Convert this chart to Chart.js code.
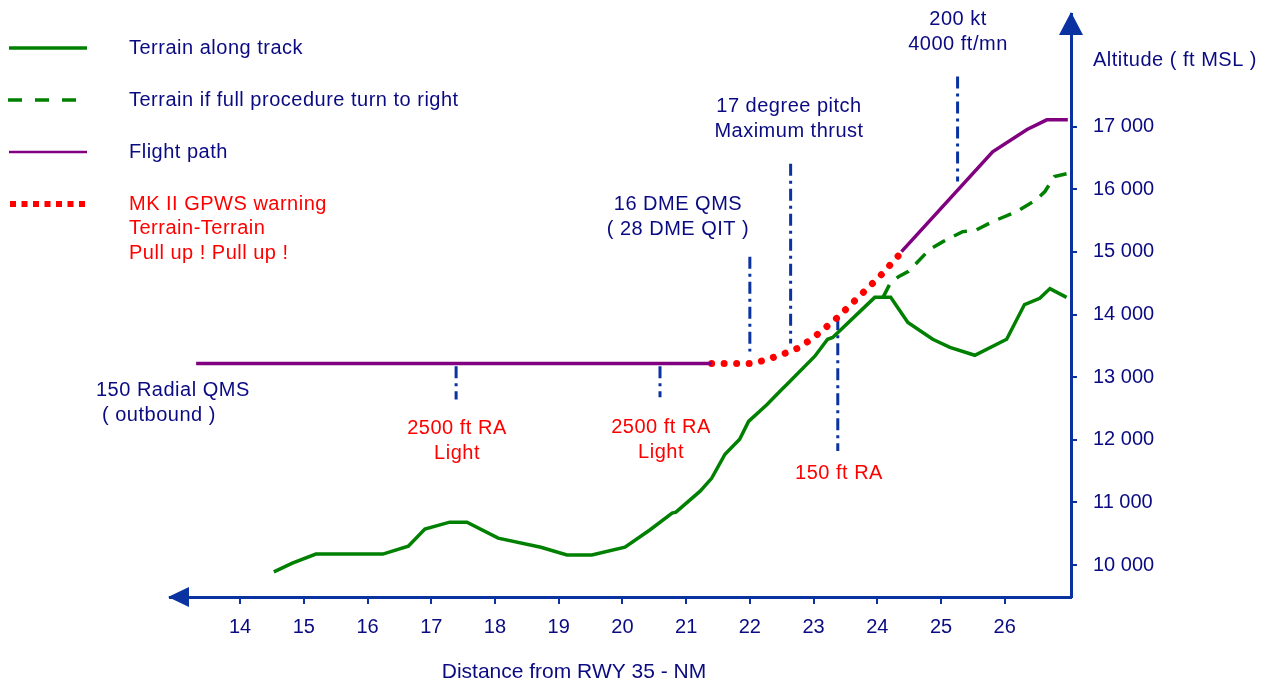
<!DOCTYPE html>
<html>
<head>
<meta charset="utf-8">
<script src="https://cdn.jsdelivr.net/npm/chart.js@4.4.1/dist/chart.umd.min.js"></script>
<style>
  body { margin: 0; background: #fff; }
</style>
</head>
<body>
<canvas id="profile" width="1272" height="686"></canvas>
<script>
// distance from RWY 35 (NM) and altitude (ft MSL)
const xTicks = [14, 15, 16, 17, 18, 19, 20, 21, 22, 23, 24, 25, 26];
const yTicks = [10000, 11000, 12000, 13000, 14000, 15000, 16000, 17000];

const terrainDist = [14.53, 14.82, 15.19, 16.24, 16.64, 16.90, 17.29, 17.56, 18.05, 18.72, 19.13, 19.52,
  20.04, 20.43, 20.78, 20.84, 21.22, 21.40, 21.61, 21.84, 21.98, 22.27, 22.50, 22.58, 23.02, 23.22,
  23.30, 23.96, 24.21, 24.48, 24.87, 25.14, 25.53, 26.03, 26.31, 26.55, 26.71, 26.97];
const terrainAlt = [9890, 10030, 10175, 10175, 10300, 10575, 10685, 10685, 10430, 10285, 10160, 10160,
  10285, 10560, 10830, 10845, 11180, 11385, 11770, 12010, 12295, 12565, 12805, 12885, 13335, 13605,
  13635, 14275, 14275, 13875, 13605, 13475, 13350, 13605, 14160, 14260, 14415, 14275];

const turnDist = [24.09, 24.20, 24.34, 24.49, 24.82, 25.03, 25.34, 25.53, 25.81, 26.19, 26.50, 26.63, 26.78, 26.97];
const turnAlt = [14275, 14495, 14610, 14690, 15040, 15165, 15325, 15340, 15485, 15645, 15835, 15965, 16205, 16250];

const levelDist = [13.31, 21.40];
const levelAlt = [13220, 13220];

const warnDist = [21.40, 22.00, 22.24, 22.42, 22.63, 22.78, 22.94, 23.10, 23.36, 23.65, 24.04, 24.35];
const warnAlt = [13220, 13220, 13270, 13335, 13410, 13475, 13590, 13715, 13940, 14225, 14610, 14960];

const climbDist = [24.38, 25.81, 26.35, 26.66, 26.99];
const climbAlt = [15005, 16600, 16955, 17110, 17110];

// vertical dash-dot event markers: distance, top and bottom altitude
const markDist = [17.39, 20.59, 22.00, 22.64, 23.38, 25.26];
const markTop = [13175, 13175, 14925, 16410, 13940, 17800];
const markBottom = [12645, 12680, 13410, 13540, 11820, 16125];

const NAVY = '#0a0a82';
const AXIS = '#0a32a0';
const RED = '#ff0000';
const GREEN = '#008000';
const PURPLE = '#800080';
const FONT = '"Liberation Sans", Arial, sans-serif';

function pts(xs, ys) {
  return xs.map((x, i) => ({ x: x, y: ys[i] }));
}

const datasets = [
  { data: pts(terrainDist, terrainAlt), borderColor: GREEN, borderWidth: 3.5 },
  { data: pts(turnDist, turnAlt), borderColor: GREEN, borderWidth: 3.5, borderDash: [14, 10] },
  { data: pts(levelDist, levelAlt), borderColor: PURPLE, borderWidth: 3.5 },
  { data: pts(climbDist, climbAlt), borderColor: PURPLE, borderWidth: 3.5 },
  { data: pts(warnDist, warnAlt), borderColor: RED, borderWidth: 7, borderCapStyle: 'round', borderDash: [0.01, 12.5] }
];
markDist.forEach((d, i) => {
  datasets.push({
    data: [{ x: d, y: markTop[i] }, { x: d, y: markBottom[i] }],
    borderColor: AXIS, borderWidth: 3, borderDash: [12, 5, 3, 5]
  });
});
datasets.forEach(ds => {
  ds.pointRadius = 0;
  ds.fill = false;
  ds.tension = 0;
  ds.clip = false;
});

// free text on the drawing (pixel positions)
const notes = [
  { t: '200 kt', x: 958, y: 19, c: NAVY, a: 'center' },
  { t: '4000 ft/mn', x: 958, y: 44, c: NAVY, a: 'center' },
  { t: '17 degree pitch', x: 789, y: 106, c: NAVY, a: 'center' },
  { t: 'Maximum thrust', x: 789, y: 131, c: NAVY, a: 'center' },
  { t: '16 DME QMS', x: 678, y: 204, c: NAVY, a: 'center' },
  { t: '( 28 DME QIT )', x: 678, y: 229, c: NAVY, a: 'center' },
  { t: '150 Radial QMS', x: 96, y: 390, c: NAVY, a: 'left' },
  { t: '( outbound )', x: 102, y: 415, c: NAVY, a: 'left' },
  { t: '2500 ft RA', x: 457, y: 428, c: RED, a: 'center' },
  { t: 'Light', x: 457, y: 453, c: RED, a: 'center' },
  { t: '2500 ft RA', x: 661, y: 427, c: RED, a: 'center' },
  { t: 'Light', x: 661, y: 452, c: RED, a: 'center' },
  { t: '150 ft RA', x: 839, y: 473, c: RED, a: 'center' },
  { t: 'Altitude ( ft MSL )', x: 1093, y: 60, c: NAVY, a: 'left' }
];

const legendRows = [
  { text: ['Terrain along track'], color: GREEN, style: 'solid', y: 48 },
  { text: ['Terrain if full procedure turn to right'], color: GREEN, style: 'dash', y: 100 },
  { text: ['Flight path'], color: PURPLE, style: 'thin', y: 152 },
  { text: ['MK II GPWS warning', 'Terrain-Terrain', 'Pull up ! Pull up !'], color: RED, style: 'dot', y: 204 }
];

const decorations = {
  id: 'decorations',
  afterDraw(chart) {
    const ctx = chart.ctx;
    const a = chart.chartArea;
    ctx.save();
    // arrow heads
    ctx.fillStyle = AXIS;
    ctx.beginPath();
    ctx.moveTo(a.left - 2, a.bottom);
    ctx.lineTo(a.left + 19, a.bottom - 10);
    ctx.lineTo(a.left + 19, a.bottom + 10);
    ctx.closePath();
    ctx.fill();
    ctx.beginPath();
    ctx.moveTo(a.right, a.top - 2);
    ctx.lineTo(a.right - 12, a.top + 21);
    ctx.lineTo(a.right + 12, a.top + 21);
    ctx.closePath();
    ctx.fill();

    // texts
    ctx.font = '20px ' + FONT;
    ctx.textBaseline = 'middle';
    ctx.letterSpacing = '0.5px';
    notes.forEach(n => {
      ctx.fillStyle = n.c;
      ctx.textAlign = n.a;
      ctx.fillText(n.t, n.x, n.y);
    });

    // x axis title
    ctx.font = '21px ' + FONT;
    ctx.letterSpacing = '0px';
    ctx.fillStyle = NAVY;
    ctx.textAlign = 'center';
    ctx.fillText('Distance from RWY 35 - NM', 574, 672);

    // legend
    ctx.font = '20px ' + FONT;
    ctx.letterSpacing = '0.5px';
    ctx.textAlign = 'left';
    legendRows.forEach(r => {
      ctx.strokeStyle = r.color;
      ctx.fillStyle = r.color;
      ctx.setLineDash([]);
      if (r.style === 'solid' || r.style === 'thin') {
        ctx.lineWidth = r.style === 'solid' ? 3.5 : 2.5;
        ctx.beginPath();
        ctx.moveTo(9, r.y);
        ctx.lineTo(87, r.y);
        ctx.stroke();
      } else if (r.style === 'dash') {
        ctx.lineWidth = 3.5;
        ctx.setLineDash([14, 13]);
        ctx.beginPath();
        ctx.moveTo(8, r.y);
        ctx.lineTo(85, r.y);
        ctx.stroke();
      } else {
        for (let x = 10; x < 82; x += 11.5) {
          ctx.fillRect(x, r.y - 3, 6, 6);
        }
      }
      r.text.forEach((t, i) => {
        ctx.fillStyle = r.style === 'dot' ? RED : NAVY;
        ctx.fillText(t, 129, r.y + i * 24.5);
      });
    });
    ctx.restore();
  }
};

new Chart(document.getElementById('profile'), {
  type: 'line',
  data: { datasets: datasets },
  options: {
    responsive: false,
    animation: false,
    events: [],
    layout: { padding: { left: 170, top: 14, right: 0, bottom: 0 } },
    plugins: { legend: { display: false }, tooltip: { enabled: false } },
    scales: {
      x: {
        type: 'linear',
        min: 12.9,
        max: 27.04,
        afterBuildTicks: s => { s.ticks = xTicks.map(v => ({ value: v })); },
        afterFit: s => { s.height = 89; s.paddingLeft = 0; s.paddingRight = 0; },
        border: { color: AXIS, width: 3 },
        grid: { drawOnChartArea: false, drawTicks: true, tickLength: 7, color: AXIS, lineWidth: 2 },
        ticks: {
          color: NAVY,
          padding: 11,
          maxRotation: 0,
          autoSkip: false,
          font: { family: FONT, size: 20 }
        }
      },
      y: {
        type: 'linear',
        position: 'right',
        min: 9490,
        max: 18800,
        afterBuildTicks: s => { s.ticks = yTicks.map(v => ({ value: v })); },
        afterFit: s => { s.width = 201; s.paddingTop = 0; s.paddingBottom = 0; },
        border: { color: AXIS, width: 3 },
        grid: { drawOnChartArea: false, drawTicks: true, tickLength: 6, color: AXIS, lineWidth: 2 },
        ticks: {
          color: NAVY,
          padding: 16,
          autoSkip: false,
          font: { family: FONT, size: 20 },
          callback: v => String(v / 1000) + ' 000'
        }
      }
    }
  },
  plugins: [decorations]
});
</script>
</body>
</html>
